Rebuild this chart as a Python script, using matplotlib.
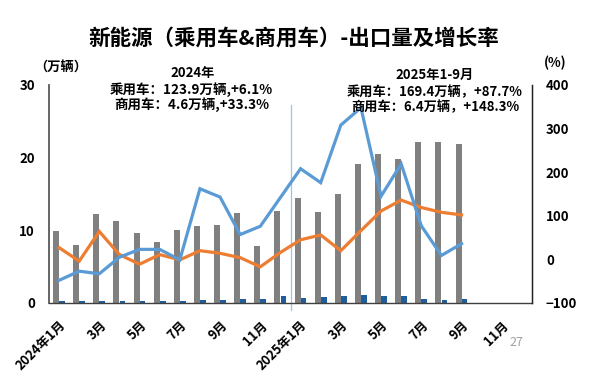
import matplotlib
matplotlib.use("Agg")
import matplotlib.pyplot as plt
import numpy as np

plt.rcParams['font.family'] = ['Noto Sans CJK SC', 'DejaVu Sans']

# ---- data ----
months = [f"2024年{m}月" for m in range(1, 13)] + [f"2025年{m}月" for m in range(1, 13)]
tick_labels = ["2024年1月", "3月", "5月", "7月", "9月", "11月",
               "2025年1月", "3月", "5月", "7月", "9月", "11月"]
pv_export = [9.95, 7.98, 12.3, 11.3, 9.6, 8.35, 10.1, 10.6, 10.7, 12.4, 7.9, 12.6,
             14.5, 12.5, 15.0, 19.1, 20.5, 19.8, 22.2, 22.2, 21.9]
cv_export = [0.23, 0.3, 0.25, 0.25, 0.3, 0.3, 0.3, 0.4, 0.4, 0.6, 0.5, 1.0,
             0.7, 0.8, 1.0, 1.05, 0.9, 0.9, 0.5, 0.4, 0.5]
pv_growth = [27, -4, 64, 11, -11, 11, -1, 20, 14, 4, -17, 16,
             45, 56, 20, 66, 111, 136, 119, 108, 102]
cv_growth = [-48, -27, -33, 5, 23, 23, -1, 162, 143, 57, 76, 142,
             208, 176, 308, 348, 145, 219, 77, 9, 36]

GRAY = "#808080"
DBLUE = "#1f5d9c"
LBLUE = "#5b9bd5"
ORANGE = "#ed7d31"

W, H = 600, 374
fig = plt.figure(figsize=(6, 3.74), dpi=100)
ax = fig.add_axes([49 / W, 1 - 303 / H, (532 - 49) / W, (303 - 85) / H])
ax2 = ax.twinx()

x = np.arange(len(pv_export))
bw = 0.3
ax.bar(x - bw / 2, pv_export, width=bw, color=GRAY, zorder=2)
ax.bar(x + bw / 2, cv_export, width=bw * 0.95, color=DBLUE, zorder=2)

ax2.plot(x, pv_growth, color=ORANGE, lw=2.3, zorder=3, solid_joinstyle='miter')
ax2.plot(x, cv_growth, color=LBLUE, lw=2.3, zorder=4, solid_joinstyle='miter')

ax.set_xlim(-0.5, len(months) - 0.5)
ax.set_ylim(0, 30)
ax2.set_ylim(-100, 400)
ax.set_yticks([0, 10, 20, 30])
ax2.set_yticks([-100, 0, 100, 200, 300, 400])

ax.set_xticks(np.arange(0, len(months), 2))
ax.set_xticklabels(tick_labels, rotation=45, ha='right', va='top',
                   rotation_mode='anchor', fontsize=9.3, fontweight='bold')

ax.tick_params(axis='x', length=0, pad=11)
ax.tick_params(axis='y', length=0, pad=10, labelsize=9.5)
ax2.tick_params(axis='y', length=0, pad=10, labelsize=9.5)
for lab in ax.get_yticklabels() + ax2.get_yticklabels():
    lab.set_fontweight('bold')

for a in (ax, ax2):
    a.spines['top'].set_visible(False)
ax.spines['left'].set_color("#595959")
ax.spines['left'].set_linewidth(1.3)
ax.spines['bottom'].set_color("#404040")
ax.spines['bottom'].set_linewidth(1.0)
ax2.spines['right'].set_color("#202020")
ax2.spines['right'].set_linewidth(1.0)
ax2.spines['left'].set_visible(False)
ax2.spines['bottom'].set_visible(False)

ax.axvline(11.5, ymin=-0.032, ymax=0.908, color="#9dc3e6", lw=0.9, clip_on=False, zorder=1)

def ft(px, py, s, **kw):
    fig.text(px / W, 1 - py / H, s, ha='center', va='center', **kw)

ft(294, 38, "新能源（乘用车&商用车）-出口量及增长率", fontsize=15.5, fontweight='bold')
ft(61, 68, "（万辆）", fontsize=9.5, fontweight='bold')
ft(555, 63, "(%)", fontsize=9.5, fontweight='bold')

ft(193, 73, "2024年", fontsize=9.5, fontweight='bold')
ft(191.5, 90, "乘用车：123.9万辆,+6.1%", fontsize=9.7, fontweight='bold')
ft(191.5, 105, "商用车：4.6万辆,+33.3%", fontsize=9.7, fontweight='bold')

ft(435, 75, "2025年1-9月", fontsize=9.5, fontweight='bold')
ft(435, 92, "乘用车：169.4万辆，+87.7%", fontsize=9.5, fontweight='bold')
ft(435.5, 107, "商用车：6.4万辆，+148.3%", fontsize=9.5, fontweight='bold')

ft(516, 343, "27", fontsize=9, color="#a0a0a0")

fig.savefig("out.png", dpi=100)
